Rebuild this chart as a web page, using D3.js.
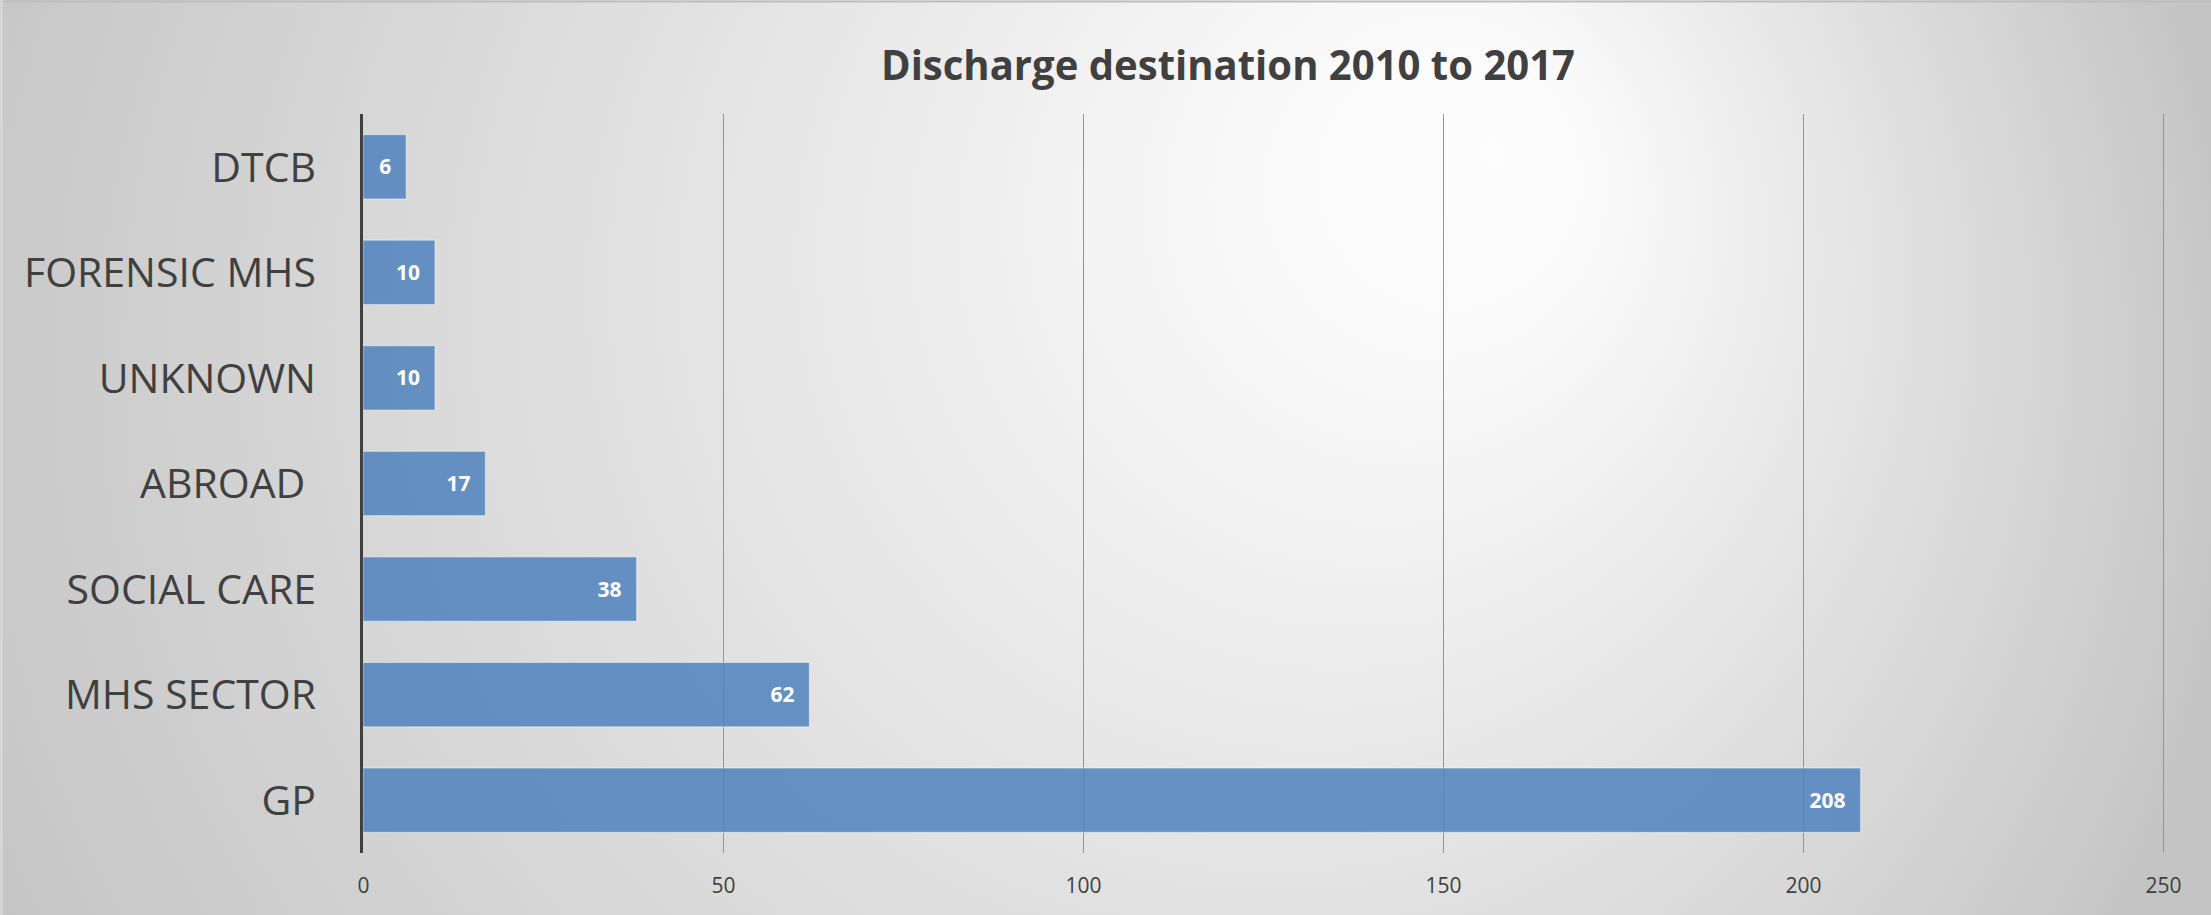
<!DOCTYPE html>
<html>
<head>
<meta charset="utf-8">
<script src="https://cdn.jsdelivr.net/npm/d3@7"></script>
<style>
  html, body { margin: 0; padding: 0; background: #ffffff; }
  svg { display: block; }
</style>
</head>
<body>
<svg id="chart" width="2211" height="915"></svg>
<script>
// ---- data ----
const categories = ["DTCB", "FORENSIC MHS", "UNKNOWN", "ABROAD ", "SOCIAL CARE", "MHS SECTOR", "GP"];
const values = [6, 10, 10, 17, 38, 62, 208];
const xTicks = [0, 50, 100, 150, 200, 250];
const titleText = "Discharge destination 2010 to 2017";

// ---- layout ----
const W = 2211, H = 915;
const plot = { left: 363, right: 2163, top: 114, bottom: 853 };

const svg = d3.select("#chart");

// background gradient (off-centre radial, light towards upper right)
const defs = svg.append("defs");
const grad = defs.append("radialGradient")
  .attr("id", "bg")
  .attr("gradientUnits", "userSpaceOnUse")
  .attr("cx", 1050).attr("cy", 400).attr("r", 1200)
  .attr("fx", 1500).attr("fy", 150);
grad.append("stop").attr("offset", "0").attr("stop-color", "#fdfdfd");
grad.append("stop").attr("offset", "0.15").attr("stop-color", "#f9f9f9");
grad.append("stop").attr("offset", "1").attr("stop-color", "#c4c4c4");

svg.append("rect").attr("x", 0).attr("y", 0).attr("width", W).attr("height", H)
  .attr("fill", "url(#bg)");
svg.append("line").attr("x1", 0).attr("x2", W).attr("y1", 1.5).attr("y2", 1.5)
  .attr("stroke", "#bdbdbd").attr("stroke-width", 2);
svg.append("line").attr("x1", 1.5).attr("x2", 1.5).attr("y1", 0).attr("y2", H)
  .attr("stroke", "#dcdcdc").attr("stroke-width", 2);

// scales
const x = d3.scaleLinear().domain([0, 250]).range([plot.left, plot.right]);
const y = d3.scaleBand().domain(categories).range([plot.top, plot.bottom])
  .paddingInner(0.39).paddingOuter(0.195);

// gridlines
svg.append("g").selectAll("line").data(xTicks.filter(t => t > 0)).join("line")
  .attr("x1", d => Math.round(x(d)) + 0.5).attr("x2", d => Math.round(x(d)) + 0.5)
  .attr("y1", plot.top).attr("y2", plot.bottom)
  .attr("stroke", "#959595").attr("stroke-width", 1);

// bars
svg.append("g").selectAll("rect").data(categories).join("rect")
  .attr("x", x(0))
  .attr("y", d => y(d))
  .attr("width", (d, i) => x(values[i]) - x(0))
  .attr("height", y.bandwidth())
  .attr("fill", "#4f81bd").attr("fill-opacity", 0.85)
  .attr("stroke", "#ffffff").attr("stroke-opacity", 0.45).attr("stroke-width", 1.2);

// data labels
svg.append("g").selectAll("text").data(categories).join("text")
  .attr("x", (d, i) => x(values[i]) - 15)
  .attr("y", d => y(d) + y.bandwidth() / 2)
  .attr("dy", "0.36em")
  .attr("text-anchor", "end")
  .attr("font-family", "'Open Sans', sans-serif")
  .attr("font-weight", "bold")
  .attr("font-size", 21)
  .attr("fill", "#ffffff")
  .text((d, i) => values[i]);

// category axis line
svg.append("line").attr("x1", plot.left - 1.5).attr("x2", plot.left - 1.5)
  .attr("y1", plot.top).attr("y2", plot.bottom)
  .attr("stroke", "#404040").attr("stroke-width", 3);

// category labels
svg.append("g").selectAll("text").data(categories).join("text")
  .attr("x", 316)
  .attr("y", d => y(d) + y.bandwidth() / 2)
  .attr("dy", "0.36em")
  .attr("text-anchor", "end")
  .attr("font-family", "'Open Sans', sans-serif")
  .attr("font-size", 41)
  .attr("fill", "#404040")
  .style("white-space", "pre")
  .text(d => d);

// x axis tick labels
const xAxis = d3.axisBottom(x).tickValues(xTicks).tickSize(0).tickPadding(0);
const gx = svg.append("g").attr("transform", `translate(0, ${plot.bottom})`).call(xAxis);
gx.select(".domain").remove();
gx.selectAll("text")
  .attr("y", 32).attr("dy", "0.36em")
  .attr("font-family", "'Open Sans', sans-serif")
  .attr("font-size", 21)
  .attr("fill", "#404040");

// title
const title = svg.append("text")
  .attr("x", 1228).attr("y", 80)
  .attr("text-anchor", "middle")
  .attr("font-family", "'Open Sans', sans-serif")
  .attr("font-weight", "bold")
  .attr("font-size", 42)
  .attr("fill", "#404040")
  .text(titleText);
const tl = title.node().getComputedTextLength();
if (tl > 694) title.attr("textLength", 694).attr("lengthAdjust", "spacingAndGlyphs");
</script>
</body>
</html>
